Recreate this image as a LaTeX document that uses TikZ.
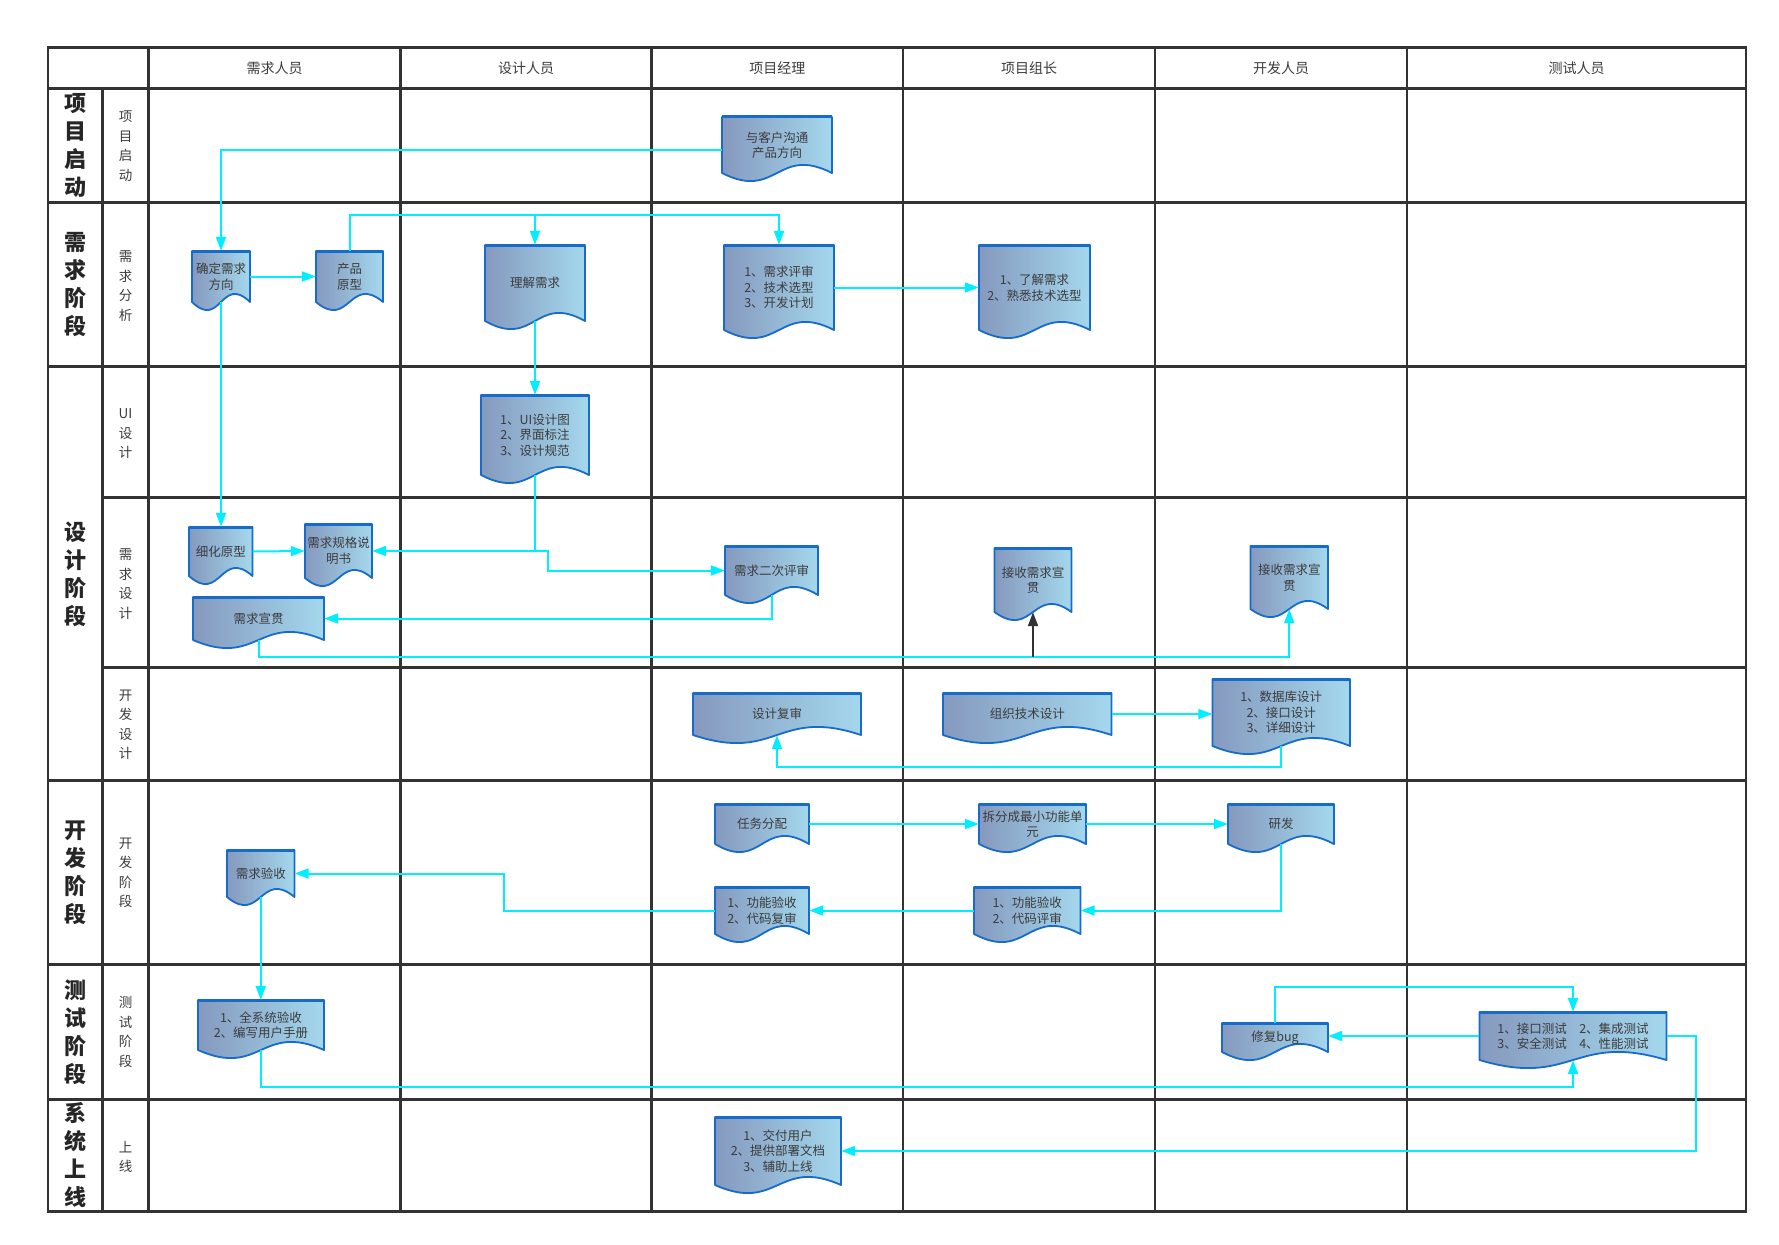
\documentclass[tikz,border=0pt]{standalone}
\usepackage{fontspec}
\setmainfont{Noto Sans CJK SC}
\usetikzlibrary{arrows.meta}
\definecolor{gridC}{RGB}{51,51,51}
\definecolor{cyanC}{RGB}{0,238,255}
\definecolor{docB}{RGB}{22,108,200}
\definecolor{docL}{RGB}{133,153,190}
\definecolor{docR}{RGB}{164,216,237}
\definecolor{txtC}{RGB}{60,60,60}
\tikzset{
  gridline/.style={draw=gridC,line width=2.5pt},
  flow/.style={draw=cyanC,line width=2pt,-{Triangle[length=14pt,width=10pt]}},
  blkflow/.style={draw=gridC,line width=2pt,-{Triangle[length=14pt,width=10pt]}},
  doctext/.style={inner sep=0pt,align=center,text=txtC,font=\fontsize{12.5}{15.5}\selectfont},
  headtext/.style={text=txtC,font=\fontsize{14}{16}\selectfont},
  phasetext/.style={align=center,text=black!85,font=\fontsize{22}{28}\selectfont\bfseries},
  subtext/.style={align=center,text=txtC,font=\fontsize{13.5}{19.5}\selectfont},
}
% name, left, top, right, corner-bottom, text
\newcommand\mkdoc[6]{%
  \pgfmathsetmacro\dcx{(#2+#4)/2}%
  \pgfmathsetmacro\dcy{(#3+#5)/2}%
  \pgfmathsetmacro\dw{#4-#2}%
  \pgfmathsetmacro\dh{#5-#3}%
  \pgfmathsetmacro\dwd{#5+28}%
  \pgfmathsetmacro\dwu{#5-28}%
  \shade[left color=docL,right color=docR] (#2,#3) -- (#4,#3) -- (#4,#5) .. controls (\dcx,\dwu) and (\dcx,\dwd) .. (#2,#5) -- cycle;
  \draw[docB,line width=1.8pt,line join=round] (#2,#3) -- (#4,#3) -- (#4,#5) .. controls (\dcx,\dwu) and (\dcx,\dwd) .. (#2,#5) -- cycle;
  \draw[docB,line width=3pt] (#2,#3) -- (#4,#3);
  \node[doctext,minimum width=\dw pt,minimum height=\dh pt] (#1) at (\dcx,\dcy) {#6};
}
\begin{document}
\begin{tikzpicture}[x=1pt,y=-1pt]
\useasboundingbox (0,0) rectangle (1779,1244);
\fill[white] (0,0) rectangle (1779,1244);
% ---------- grid ----------
\draw[gridline] (48,47.3) rectangle (1746,1211.7);
\draw[gridline,line width=3.2pt] (48,88.3) -- (1746,88.3);
\draw[gridline] (148.5,47.3) -- (148.5,1211.7);
\draw[gridline] (102.5,88.3) -- (102.5,1211.7);
\foreach \cx in {400.5,651.5,903,1155,1407}
  \draw[gridline] (\cx,47.3) -- (\cx,1211.7);
\foreach \ry in {202.7,366.7,780.7,964.7,1099.3}
  \draw[gridline] (48,\ry) -- (1746,\ry);
\foreach \ry in {497.7,667.3}
  \draw[gridline] (102.5,\ry) -- (1746,\ry);
% ---------- header ----------
\node[headtext] (h1) at (274.5,67.8) {需求人员};
\node[headtext] (h2) at (526,67.8) {设计人员};
\node[headtext] (h3) at (777.3,67.8) {项目经理};
\node[headtext] (h4) at (1029,67.8) {项目组长};
\node[headtext] (h5) at (1281,67.8) {开发人员};
\node[headtext] (h6) at (1576.5,67.8) {测试人员};
% ---------- phase labels ----------
\node[phasetext] (p1) at (75,145.5) {项\\目\\启\\动};
\node[phasetext] (p2) at (75,284.7) {需\\求\\阶\\段};
\node[phasetext] (p3) at (75,574.5) {设\\计\\阶\\段};
\node[phasetext] (p4) at (75,872.7) {开\\发\\阶\\段};
\node[phasetext] (p5) at (75,1032) {测\\试\\阶\\段};
\node[phasetext] (p6) at (75,1155.5) {系\\统\\上\\线};
% ---------- sub-lane labels ----------
\node[subtext] (s1) at (125.5,146) {项\\目\\启\\动};
\node[subtext] (s2) at (125.5,286) {需\\求\\分\\析};
\node[subtext] (s3) at (125.5,434) {UI\\设\\计};
\node[subtext] (s4) at (125.5,584) {需\\求\\设\\计};
\node[subtext] (s5) at (125.5,725) {开\\发\\设\\计};
\node[subtext] (s6) at (125.5,873) {开\\发\\阶\\段};
\node[subtext] (s7) at (125.5,1032) {测\\试\\阶\\段};
\node[subtext] (s8) at (125.5,1157) {上\\线};
% ---------- documents ----------
\mkdoc{d1}{722}{117}{832}{173}{与客户沟通\\产品方向}
\mkdoc{d2}{192}{251}{250}{302}{确定需求\\方向}
\mkdoc{d3}{316}{251}{383}{302}{产品\\原型}
\mkdoc{d4}{485}{245}{585}{321}{理解需求}
\mkdoc{d5}{724}{245}{834}{330}{1、需求评审\\2、技术选型\\3、开发计划}
\mkdoc{d6}{979}{245}{1090}{330}{1、了解需求\\2、熟悉技术选型}
\mkdoc{d7}{481}{395}{589}{475}{1、UI设计图\\2、界面标注\\3、设计规范}
\mkdoc{d8}{189}{527}{252.5}{576}{细化原型}
\mkdoc{d9}{305}{524}{372}{578}{需求规格说\\明书}
\mkdoc{d10}{193}{597}{324}{640}{需求宣贯}
\mkdoc{d11}{725}{546}{818}{595}{需求二次评审}
\mkdoc{d12}{994.5}{548}{1071.5}{612}{接收需求宣\\贯}
\mkdoc{d13}{1250.5}{546}{1328}{609}{接收需求宣\\贯}
\mkdoc{d14}{693}{693}{861}{735}{设计复审}
\mkdoc{d15}{943}{693}{1111.5}{735}{组织技术设计}
\mkdoc{d16}{1212.5}{679}{1350}{746}{1、数据库设计\\2、接口设计\\3、详细设计}
\mkdoc{d17}{715}{804}{809}{844}{任务分配}
\mkdoc{d18}{979}{804}{1086}{844}{拆分成最小功能单\\元}
\mkdoc{d19}{1228}{804}{1334}{844}{研发}
\mkdoc{d20}{715}{887}{809}{934}{1、功能验收\\2、代码复审}
\mkdoc{d21}{974}{887}{1080.5}{934}{1、功能验收\\2、代码评审}
\mkdoc{d22}{1222}{1023}{1328}{1052}{修复bug}
\mkdoc{d23}{1479.5}{1012}{1666.5}{1060}{1、接口测试\quad 2、集成测试\\3、安全测试\quad 4、性能测试}
\mkdoc{d24}{715}{1117}{841}{1185}{1、交付用户\\2、提供部署文档\\3、辅助上线}
\mkdoc{d25}{227}{850}{294.5}{897}{需求验收}
\mkdoc{d26}{198}{1000}{324}{1050}{1、全系统验收\\2、编写用户手册}
% ---------- bend coordinates ----------
\coordinate (cTop) at (0,215);
\coordinate (jb) at (0,656.7);
\coordinate (lb) at (0,766.7);
\coordinate (qx) at (504.3,0);
\coordinate (sb) at (0,1087.3);
\coordinate (ub) at (0,986.7);
\coordinate (vx) at (1695.5,0);
% ---------- connectors ----------
\draw[flow] ([yshift=-5pt]d1.west) -| (d2.north);
\draw[flow] (d2.east) -- (d3.west);
\draw[flow] (d3.north) |- (cTop -| d5.north) -- (d5.north);
\draw[flow] (d4.north |- cTop) -- (d4.north);
\draw[flow] (d2.south) -- (d2.south |- d8.north);
\draw[flow] (d5.east) -- (d6.west);
\draw[flow] (d4.south) -- (d7.north);
\draw[flow] (d7.south) |- (d9.east);
\draw[flow] (d7.south |- d9.east) -- ++(12.5,0) |- (d11.west);
\draw[flow] (d8.east) -- (d9.west);
\draw[flow] (d11.south) |- (d10.east);
\draw[flow] (d10.south) |- (jb -| d13.south) -- (d13.south);
\draw[blkflow] (jb -| d12.south) -- (d12.south);
\draw[flow] (d15.east) -- (d15.east -| d16.west);
\draw[flow] (d16.south) |- (lb -| d14.south) -- (d14.south);
\draw[flow] (d17.east) -- (d18.west);
\draw[flow] (d18.east) -- (d19.west);
\draw[flow] (d19.south) |- (d21.east);
\draw[flow] (d21.west) -- (d20.east);
\draw[flow] (d20.west) -- (d20.west -| qx) |- (d25.east);
\draw[flow] (d25.south) -- (d25.south |- d26.north);
\draw[flow] (d26.south) |- (sb -| d23.south) -- (d23.south);
\draw[flow] (d23.west) -- (d23.west -| d22.east);
\draw[flow] (d22.north) |- (ub -| d23.north) -- (d23.north);
\draw[flow] (d23.east) -- (d23.east -| vx) |- (d24.east);
\end{tikzpicture}
\end{document}
